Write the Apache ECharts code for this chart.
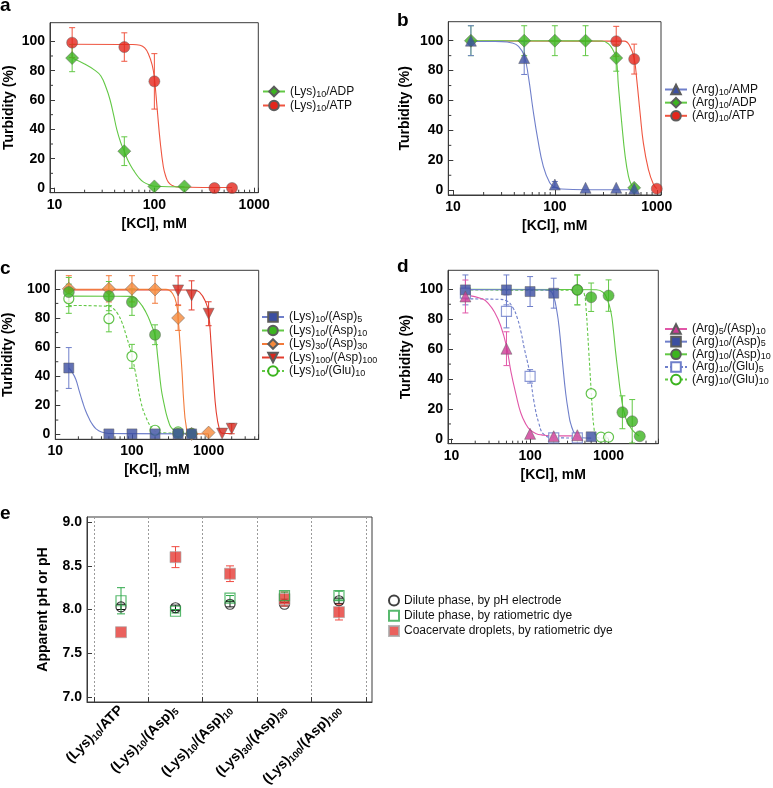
<!DOCTYPE html>
<html>
<head>
    <meta charset="utf-8" />
    <title>ECharts</title>
    <script src="https://cdn.jsdelivr.net/npm/echarts@6.0.0/dist/echarts.min.js"></script>
</head>
<body style="margin:0;background:#fff">
    <div id="main" style="width: 773px;height:788px;"></div>

    <script type="text/javascript">
        // points: [KCl (mM), turbidity (%), error bar half width]
        // fits:   [KCl (mM), turbidity (%)]

        // --- a ---
        var aLysADP = [[15, 88.6, 9.3], [50, 25.1, 9.8], [100, 1.1, 0], [200, 1.1, 0]];
        var aLysATP = [[15, 99.1, 10.2], [50, 96.1, 9.7], [100, 72.7, 18.9], [400, 0, 0], [600, 0, 0]];
        var aLysADPFit = [[15, 88.6], [20, 84.5], [25, 80.5], [29, 76.5], [33, 68], [36, 60], [39, 50], [42, 40], [46, 31], [50, 25], [55, 18], [62, 12], [70, 7], [78, 4], [90, 2], [100, 1.2], [200, 0.8]];
        var aLysATPFit = [[15, 98], [60, 97.8], [72, 97.3], [80, 95.5], [87, 91.5], [95, 84], [100, 75], [107, 53], [114, 32.5], [123, 14.5], [130, 8], [138, 4], [150, 1.8], [168, 0.7], [600, 0.3]];

        // --- b ---
        var bArgAMP = [[15, 100, 10], [50, 88.4, 11], [100, 3.8, 2], [200, 1.6, 0], [400, 1.6, 0], [600, 1, 0]];
        var bArgADP = [[15, 100, 10], [50, 100, 10], [100, 100, 10], [200, 100, 10], [400, 88.4, 8.8], [600, 1.6, 0]];
        var bArgATP = [[400, 99.6, 10], [600, 87.7, 10], [1000, 1, 0]];
        var bArgAMPFit = [[15, 99.5], [30, 99.4], [38, 98.5], [44, 96.2], [50, 90], [55, 76], [61, 54], [68, 34], [77, 16], [89, 5], [100, 2], [116, 0.8], [200, 0.3], [600, 0.3]];
        var bArgADPFit = [[15, 100], [290, 99.8], [334, 98], [370, 94], [400, 88], [420, 70], [453, 45], [490, 22.5], [527, 9.5], [560, 4], [600, 1.5]];
        var bArgATPFit = [[15, 99.8], [480, 99.7], [546, 96.2], [600, 88], [636, 74], [685, 52], [739, 31.5], [827, 14], [927, 4], [1000, 1]];

        // --- c ---
        var cAsp5 = [[15, 45.7, 14], [50, 0.5, 0], [100, 0.5, 0], [200, 0.5, 0], [400, 0.5, 0], [600, 0.5, 0]];
        var cAsp10 = [[15, 97.8, 10], [50, 95, 10], [100, 90.9, 9.1], [200, 68.5, 6.8], [400, 0.7, 0], [600, 0.7, 0]];
        var cAsp30 = [[15, 100, 9], [50, 100, 9], [100, 100, 9], [200, 99.6, 9.5], [400, 80, 8.5], [600, 0.5, 0], [1000, 1.4, 0]];
        var cAsp100 = [[400, 98.9, 10], [600, 95.5, 10], [1000, 82.9, 8.2], [1500, 0.7, 0], [2000, 4.1, 3.5]];
        var cGlu10 = [[15, 93.2, 10], [50, 79.5, 9], [100, 53.7, 8.2], [200, 3, 0], [400, 1.9, 0]];
        var cAsp5Fit = [[15, 45.7], [16.5, 43], [18.5, 38], [20.5, 30], [22.7, 22.4], [25, 16], [27.6, 11], [30.5, 7], [34, 4], [40, 1.8], [50, 0.8], [600, 0.5]];
        var cAsp10Fit = [[15, 95], [100, 94.8], [124, 91], [152, 84], [177, 76], [200, 68], [217, 53], [240, 32], [260, 22], [278, 15], [300, 9], [324, 5], [397, 1.4], [600, 0.7]];
        var cAsp30Fit = [[15, 99.7], [278, 99.6], [340, 96.6], [384, 88.6], [400, 80], [426, 61], [450, 43], [474, 22.4], [508, 6.4], [561, 0.7], [1000, 0.5]];
        var cAsp100Fit = [[15, 99.3], [620, 99.2], [760, 97.8], [930, 90], [1000, 83.5], [1080, 61], [1156, 38.5], [1254, 16], [1385, 3.5], [1500, 1], [2000, 0.7]];
        var cGlu10Fit = [[15, 88.6], [50, 88], [57, 86.5], [65, 83], [74, 77], [83, 69], [92, 61], [100, 54], [113, 40.5], [131, 22.4], [152, 12], [186, 4], [227, 1.4], [400, 1]];

        // --- d ---
        var dArg5Asp10 = [[15, 95.2, 11], [50, 60.3, 11.3], [100, 3.4, 0], [200, 1.8, 0], [400, 2.5, 0]];
        var dArg10Asp5 = [[15, 99.6, 10], [50, 99.6, 10], [100, 98.5, 10], [200, 97.4, 10], [600, 1.4, 0]];
        var dArg10Asp10 = [[400, 99.6, 10], [600, 94.7, 9.5], [1000, 95.8, 10.5], [1500, 17.8, 11], [2000, 11.8, 14.5], [2500, 1.8, 0]];
        var dArg10Glu5 = [[15, 97.4, 0], [50, 85.2, 11], [100, 41.8, 4.5], [200, 0.7, 0], [400, 0.7, 0]];
        var dArg10Glu10 = [[400, 99.6, 10], [600, 30.3, 0], [800, 1.2, 0], [1000, 1.2, 0]];
        var dArg5Asp10Fit = [[15, 96.3], [25, 93.5], [30, 90], [35, 85], [42, 76], [50, 62], [57, 45], [66, 30], [76, 17.5], [88, 10], [100, 6], [120, 3.5], [140, 2.7], [200, 2], [400, 2]];
        var dArg10Asp5Fit = [[15, 99.8], [150, 99.6], [180, 99], [200, 95], [220, 85], [235, 74], [258, 52], [285, 30], [310, 17], [330, 10], [380, 2.5], [450, 0.8], [600, 0.5]];
        var dArg10Asp10Fit = [[15, 100], [700, 99.7], [850, 98], [950, 94], [1070, 85], [1150, 73], [1230, 58], [1330, 43], [1430, 30], [1650, 14], [2000, 6], [2450, 2]];
        var dArg10Glu5Fit = [[15, 93.6], [40, 93.3], [50, 92.3], [60, 88], [69, 80.5], [77, 71], [84, 61], [92, 52], [100, 43], [112, 25], [130, 10], [150, 3], [200, 0.8], [400, 0.6]];
        var dArg10Glu10Fit = [[15, 99.5], [450, 99.3], [490, 97], [515, 88], [540, 72], [560, 58], [580, 45], [600, 32], [620, 20], [650, 8], [690, 2], [800, 0.5], [1000, 0.5]];

        // tick positions
        var logMajor = [10, 100, 1000];
        var logMinor = [20, 30, 40, 50, 60, 70, 80, 90, 200, 300, 400, 500, 600, 700, 800, 900, 2000, 3000, 4000];
        var turbidityTicks = [0, 20, 40, 60, 80, 100];
        var turbidityMinor = [10, 30, 50, 70, 90];

        // --- e --- (names use _n for subscripts)
        var eCategories = ['(Lys)_10/ATP', '(Lys)_10/(Asp)_5', '(Lys)_10/(Asp)_10', '(Lys)_30/(Asp)_30', '(Lys)_100/(Asp)_100'];
        var eBounds = [0.5, 1.5, 2.5, 3.5, 4.5, 5.5];
        var ePositions = [1, 2, 3, 4, 5];
        var phTicks = [7, 7.5, 8, 8.5, 9];
        var phElectrode = [8.03, 8.02, 8.06, 8.06, 8.10];
        var phElectrodeErr = [0.03, 0.03, 0.03, 0.02, 0.03];
        var phDye = [8.10, 7.98, 8.13, 8.16, 8.16];
        var phDyeErr = [0.15, 0.02, 0.03, 0.04, 0.05];
        var phDroplet = [7.74, 8.60, 8.41, 8.12, 7.97];
        var phDropletErr = [0, 0.12, 0.09, 0.08, 0.09];

        var FONT = 'Liberation Sans';
        var AXIS = '#3a3a3a';
        var Y_MIN = -3.2, Y_MAX = 112.7;

        var GREEN = '#3cb41f', GREEN_L = '#62c845';
        var RED = '#e3261c', RED_L = '#ef5540';
        var BLUE = '#3b4ea1', BLUE_L = '#6f7fca';
        var ORANGE = '#f5893b', ORANGE_L = '#f27a3a';
        var DRED = '#d4281e', DRED_L = '#e33d2e';
        var MAGENTA = '#cc3a95', MAGENTA_L = '#e157a8';
        var TRI_DOWN = 'path://M0,0 L10,0 L5,9 Z';

        // "(Lys)_10/ATP" -> rich text with subscript
        function richName(name) {
            return name.split(/_(\d+)/).map(function (part, k) {
                if (k % 2) return '{s|' + part + '}';
                return part ? '{n|' + part + '}' : '';
            }).join('');
        }

        var grids = [], xAxes = [], yAxes = [], series = [], legends = [];

        function markerStyle(s) {
            if (s.hollow) return { color: '#fff', borderColor: s.fill, borderWidth: 1.2 };
            return { color: s.fill, borderColor: '#5c5c5c', borderWidth: 0.6 };
        }

        function errorBars(color, cap) {
            return function (params, api) {
                var x = api.value(0), y = api.value(1), e = api.value(2);
                var top = api.coord([x, y + e]), bot = api.coord([x, y - e]);
                var st = { stroke: color, lineWidth: 1, fill: null };
                return {
                    type: 'group', children: [
                        { type: 'line', shape: { x1: top[0], y1: top[1], x2: bot[0], y2: bot[1] }, style: st },
                        { type: 'line', shape: { x1: top[0] - cap, y1: top[1], x2: top[0] + cap, y2: top[1] }, style: st },
                        { type: 'line', shape: { x1: bot[0] - cap, y1: bot[1], x2: bot[0] + cap, y2: bot[1] }, style: st }
                    ]
                };
            };
        }

        function tickMarks(dx, dy) {
            return function (params, api) {
                var p = api.coord([api.value(0), api.value(1)]);
                return { type: 'line', shape: { x1: p[0], y1: p[1], x2: p[0] + dx, y2: p[1] + dy }, style: { stroke: AXIS, lineWidth: 1 } };
            };
        }

        function boldText(size) {
            return { fontFamily: FONT, fontWeight: 'bold', fontSize: size, color: '#000' };
        }

        function turbidityPanel(p) {
            var i = grids.length;
            grids.push({
                left: p.box[0], top: p.box[1], width: p.box[2], height: p.box[3],
                show: true, borderColor: AXIS, borderWidth: 1, outerBoundsMode: 'none'
            });
            xAxes.push({
                type: 'log', logBase: 10, gridIndex: i, min: p.xMin, max: p.xMax,
                name: '[KCl], mM', nameLocation: 'middle', nameGap: 24, nameMoveOverlap: false,
                nameTextStyle: boldText(14),
                axisLine: { onZero: false, lineStyle: { color: AXIS } },
                axisTick: { inside: true, length: 5, lineStyle: { color: AXIS } },
                axisLabel: Object.assign(boldText(14), {
                    margin: 5,
                    formatter: function (v) {
                        var r = Math.round(v);
                        return logMajor.indexOf(r) >= 0 ? String(r) : '';
                    }
                }),
                splitLine: { show: false }
            });
            yAxes.push({
                type: 'value', gridIndex: i, min: Y_MIN, max: Y_MAX,
                name: 'Turbidity (%)', nameLocation: 'middle', nameGap: p.yNameGap, nameMoveOverlap: false,
                nameTextStyle: boldText(14),
                axisLine: { onZero: false, lineStyle: { color: AXIS } },
                axisTick: { inside: true, length: 5, customValues: turbidityTicks, lineStyle: { color: AXIS } },
                axisLabel: Object.assign(boldText(14), { margin: 5, customValues: turbidityTicks }),
                splitLine: { show: false }
            });
            series.push({
                type: 'custom', xAxisIndex: i, yAxisIndex: i, silent: true, z: 1,
                data: logMinor.filter(function (v) { return v < p.xMax; }).map(function (v) { return [v, Y_MIN]; }),
                renderItem: tickMarks(0, -3)
            });
            series.push({
                type: 'custom', xAxisIndex: i, yAxisIndex: i, silent: true, z: 1,
                data: turbidityMinor.map(function (v) { return [p.xMin, v]; }),
                renderItem: tickMarks(3, 0)
            });

            p.sets.forEach(function (s) {
                series.push({
                    type: 'line', name: s.name, xAxisIndex: i, yAxisIndex: i, data: s.fit,
                    smooth: 0.45, showSymbol: false, symbol: s.symbol, symbolSize: s.size,
                    itemStyle: markerStyle(s),
                    lineStyle: { color: s.line, width: 1.1, type: s.dashed ? [3, 2] : 'solid' },
                    z: 2, silent: true
                });
                series.push({
                    type: 'custom', xAxisIndex: i, yAxisIndex: i, silent: true, z: 3,
                    data: s.pts.filter(function (d) { return d[2] > 0; }),
                    renderItem: errorBars(s.line, 3)
                });
                series.push({
                    type: 'scatter', xAxisIndex: i, yAxisIndex: i, silent: true, z: 4,
                    data: s.pts.map(function (d) { return [d[0], d[1]]; }),
                    symbol: s.symbol, symbolSize: s.size, itemStyle: markerStyle(s)
                });
            });

            legends.push({
                data: p.legend.names, orient: 'vertical', left: p.legend.left, top: p.legend.top,
                itemGap: 0, itemWidth: 22, itemHeight: 12, padding: 0, selectedMode: false,
                formatter: richName,
                textStyle: {
                    fontFamily: FONT, fontSize: 12, color: '#111',
                    rich: {
                        n: { fontFamily: FONT, fontSize: 12, color: '#111', lineHeight: p.legend.row, verticalAlign: 'middle' },
                        s: { fontFamily: FONT, fontSize: 9, color: '#111', lineHeight: 8, verticalAlign: 'bottom' }
                    }
                }
            });
        }

        turbidityPanel({
            box: [50, 22.7, 208.3, 170], xMin: 9, xMax: 1100, yNameGap: 34,
            legend: { left: 262, top: 85.5, row: 16, names: ['(Lys)_10/ADP', '(Lys)_10/ATP'] },
            sets: [
                { name: '(Lys)_10/ATP', pts: aLysATP, fit: aLysATPFit, symbol: 'circle', size: 11, fill: RED, line: RED_L },
                { name: '(Lys)_10/ADP', pts: aLysADP, fit: aLysADPFit, symbol: 'diamond', size: 13, fill: GREEN, line: GREEN_L }
            ]
        });

        turbidityPanel({
            box: [448.3, 21.7, 212.7, 173.3], xMin: 9, xMax: 1100, yNameGap: 36,
            legend: { left: 664, top: 83.5, row: 14.3, names: ['(Arg)_10/AMP', '(Arg)_10/ADP', '(Arg)_10/ATP'] },
            sets: [
                { name: '(Arg)_10/ATP', pts: bArgATP, fit: bArgATPFit, symbol: 'circle', size: 11, fill: RED, line: RED_L },
                { name: '(Arg)_10/ADP', pts: bArgADP, fit: bArgADPFit, symbol: 'diamond', size: 13, fill: GREEN, line: GREEN_L },
                { name: '(Arg)_10/AMP', pts: bArgAMP, fit: bArgAMPFit, symbol: 'triangle', size: 11, fill: BLUE, line: BLUE_L }
            ]
        });

        turbidityPanel({
            box: [55.3, 270.3, 203.4, 169], xMin: 10, xMax: 4500, yNameGap: 40,
            legend: { left: 261, top: 311, row: 15, names: ['(Lys)_10/(Asp)_5', '(Lys)_10/(Asp)_10', '(Lys)_30/(Asp)_30', '(Lys)_100/(Asp)_100', '(Lys)_10/(Glu)_10'] },
            sets: [
                { name: '(Lys)_100/(Asp)_100', pts: cAsp100, fit: cAsp100Fit, symbol: TRI_DOWN, size: 11, fill: DRED, line: DRED_L },
                { name: '(Lys)_30/(Asp)_30', pts: cAsp30, fit: cAsp30Fit, symbol: 'diamond', size: 13, fill: ORANGE, line: ORANGE_L },
                { name: '(Lys)_10/(Glu)_10', pts: cGlu10, fit: cGlu10Fit, symbol: 'circle', size: 10, fill: GREEN, line: GREEN_L, hollow: true, dashed: true },
                { name: '(Lys)_10/(Asp)_10', pts: cAsp10, fit: cAsp10Fit, symbol: 'circle', size: 11, fill: GREEN, line: GREEN_L },
                { name: '(Lys)_10/(Asp)_5', pts: cAsp5, fit: cAsp5Fit, symbol: 'rect', size: 10, fill: BLUE, line: BLUE_L }
            ]
        });

        turbidityPanel({
            box: [448, 270.3, 210.3, 173.4], xMin: 9, xMax: 4300, yNameGap: 35,
            legend: { left: 664, top: 323, row: 13.3, names: ['(Arg)_5/(Asp)_10', '(Arg)_10/(Asp)_5', '(Arg)_10/(Asp)_10', '(Arg)_10/(Glu)_5', '(Arg)_10/(Glu)_10'] },
            sets: [
                { name: '(Arg)_10/(Glu)_10', pts: dArg10Glu10, fit: dArg10Glu10Fit, symbol: 'circle', size: 10, fill: GREEN, line: GREEN_L, hollow: true, dashed: true },
                { name: '(Arg)_10/(Asp)_10', pts: dArg10Asp10, fit: dArg10Asp10Fit, symbol: 'circle', size: 11, fill: GREEN, line: GREEN_L },
                { name: '(Arg)_10/(Glu)_5', pts: dArg10Glu5, fit: dArg10Glu5Fit, symbol: 'rect', size: 10, fill: BLUE_L, line: BLUE_L, hollow: true, dashed: true },
                { name: '(Arg)_10/(Asp)_5', pts: dArg10Asp5, fit: dArg10Asp5Fit, symbol: 'rect', size: 10, fill: BLUE, line: BLUE_L },
                { name: '(Arg)_5/(Asp)_10', pts: dArg5Asp10, fit: dArg5Asp10Fit, symbol: 'triangle', size: 11, fill: MAGENTA, line: MAGENTA_L }
            ]
        });

        // --- panel e ---
        var ei = grids.length;
        grids.push({ left: 87, top: 517, width: 285, height: 185, show: true, borderColor: AXIS, borderWidth: 1, outerBoundsMode: 'none' });
        xAxes.push({
            type: 'value', gridIndex: ei, min: 0.376, max: 5.606,
            axisLine: { onZero: false, lineStyle: { color: AXIS } },
            axisTick: { inside: true, length: 5, customValues: eBounds, lineStyle: { color: AXIS } },
            splitLine: { show: true, lineStyle: { color: '#9a9a9a', type: [2, 2], width: 1 } },
            axisLabel: {
                customValues: ePositions, rotate: 45, margin: 6,
                formatter: function (v) { return richName(eCategories[Math.round(v) - 1]); },
                rich: {
                    n: { fontFamily: FONT, fontWeight: 'bold', fontSize: 14, color: '#000', lineHeight: 16, verticalAlign: 'middle' },
                    s: { fontFamily: FONT, fontWeight: 'bold', fontSize: 9.5, color: '#000', lineHeight: 8, verticalAlign: 'bottom' }
                }
            }
        });
        yAxes.push({
            type: 'value', gridIndex: ei, min: 6.94, max: 9.06,
            name: 'Apparent pH or pH', nameLocation: 'middle', nameGap: 37, nameMoveOverlap: false,
            nameTextStyle: boldText(14),
            axisLine: { onZero: false, lineStyle: { color: AXIS } },
            axisTick: { inside: true, length: 5, customValues: phTicks, lineStyle: { color: AXIS } },
            axisLabel: Object.assign(boldText(14), {
                margin: 5, customValues: phTicks,
                formatter: function (v) { return v.toFixed(1); }
            }),
            splitLine: { show: false }
        });

        var phSets = [
            { name: 'Dilute phase, by pH electrode', vals: phElectrode, err: phElectrodeErr, symbol: 'circle', size: 10,
              style: { color: 'rgba(255,255,255,0)', borderColor: '#111', borderWidth: 1.2 }, bar: '#111' },
            { name: 'Coacervate droplets, by ratiometric dye', vals: phDroplet, err: phDropletErr, symbol: 'rect', size: 11,
              style: { color: '#e53a34', borderColor: '#a8a8a8', borderWidth: 0.8 }, bar: '#ef4a40' },
            { name: 'Dilute phase, by ratiometric dye', vals: phDye, err: phDyeErr, symbol: 'rect', size: 10,
              style: { color: 'rgba(255,255,255,0)', borderColor: '#2ea84a', borderWidth: 1.2 }, bar: '#2ea84a' }
        ];
        phSets.forEach(function (s) {
            series.push({
                type: 'custom', xAxisIndex: ei, yAxisIndex: ei, silent: true, z: 3,
                data: ePositions.map(function (x, k) { return [x, s.vals[k], s.err[k]]; })
                    .filter(function (d) { return d[2] > 0; }),
                renderItem: errorBars(s.bar, 4)
            });
            series.push({
                type: 'scatter', name: s.name, xAxisIndex: ei, yAxisIndex: ei, silent: true, z: 4,
                data: ePositions.map(function (x, k) { return [x, s.vals[k]]; }),
                symbol: s.symbol, symbolSize: s.size, itemStyle: s.style
            });
        });
        legends.push({
            data: ['Dilute phase, by pH electrode', 'Dilute phase, by ratiometric dye', 'Coacervate droplets, by ratiometric dye'],
            orient: 'vertical', left: 388, top: 593, itemGap: 0.3, itemWidth: 10, itemHeight: 10,
            padding: 0, selectedMode: false,
            textStyle: { fontFamily: FONT, fontSize: 12, color: '#111', lineHeight: 15 }
        });

        var letters = [['a', 0, -4], ['b', 397, 11], ['c', 0, 259], ['d', 397, 257], ['e', 0, 504]];

        var myChart = echarts.init(document.getElementById('main'));
        myChart.setOption({
            animation: false,
            backgroundColor: '#fff',
            grid: grids,
            xAxis: xAxes,
            yAxis: yAxes,
            legend: legends,
            series: series,
            graphic: letters.map(function (l) {
                return { type: 'text', left: l[1], top: l[2], style: { text: l[0], font: 'bold 19px "Liberation Sans"', fill: '#000' } };
            })
        });
    </script>
</body>
</html>
